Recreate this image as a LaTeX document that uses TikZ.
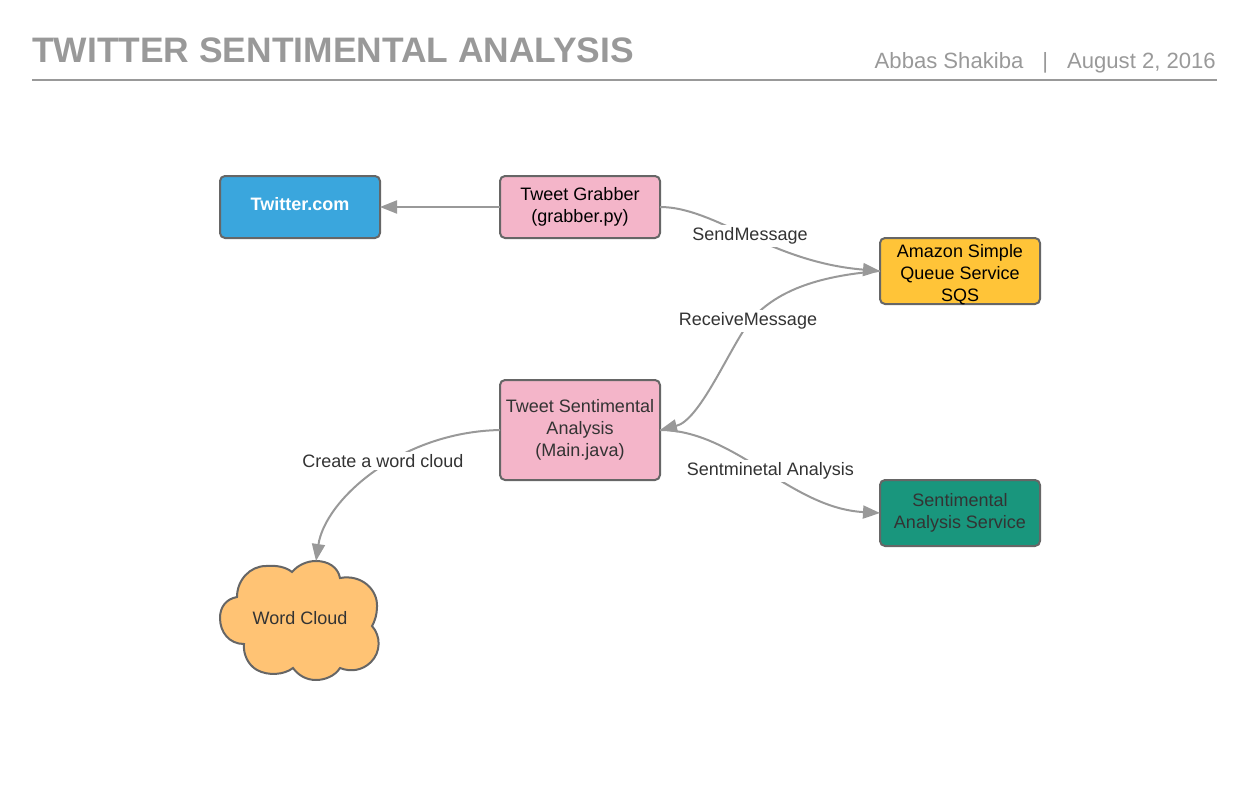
\documentclass[tikz,border=0pt]{standalone}
\usepackage{fontspec}
\setmainfont{Liberation Sans}
\usetikzlibrary{arrows.meta}
\definecolor{rulegray}{HTML}{999999}
\definecolor{edgegray}{HTML}{666666}
\definecolor{inkgray}{HTML}{333333}
\definecolor{twitterblue}{HTML}{3AA6DD}
\definecolor{boxpink}{HTML}{F4B5C9}
\definecolor{boxyellow}{HTML}{FFC438}
\definecolor{boxgreen}{HTML}{19967D}
\definecolor{cloudorange}{HTML}{FFC374}
\tikzset{
  box/.style={draw=edgegray, line width=2pt, rounded corners=5pt, minimum width=160pt, inner sep=0pt, outer sep=0pt,
    align=center, text=inkgray, font=\fontsize{18}{22}\selectfont},
  link/.style={draw=rulegray, line width=2pt, -{Triangle[length=17pt,width=13pt]}},
  linklabel/.style={fill=white, text=inkgray, inner sep=2.5pt, font=\fontsize{18}{20}\selectfont}
}
\begin{document}
\begin{tikzpicture}[x=1pt,y=-1pt]
    \useasboundingbox (0,0) rectangle (1247,800);
    % Header
    \node[anchor=base west, inner sep=0pt, text=rulegray, font=\fontsize{35.4}{40}\selectfont\bfseries] (title) at (32,63) {TWITTER SENTIMENTAL ANALYSIS};
    \node[anchor=base east, inner sep=0pt, text=rulegray, font=\fontsize{22.1}{26}\selectfont] (byline) at (1216,69) {Abbas Shakiba\hspace{19pt}|\hspace{19pt}August 2, 2016};
    \coordinate (ruleL) at (32,80);
    \coordinate (ruleR) at (1217,80);
    \draw[rulegray, line width=2pt] (ruleL) -- (ruleR);
    % Boxes
    \node[box, fill=twitterblue, minimum height=62pt, text=white, font=\fontsize{18}{22}\selectfont\bfseries] (twitter) at (300,207) {\raisebox{6pt}{Twitter.com}};
    \node[box, fill=boxpink, minimum height=62pt, text=black] (grabber) at (580,207) {Tweet Grabber\\(grabber.py)};
    \node[box, fill=boxyellow, minimum height=66pt, text=black] (sqs) at (960,271) {\raisebox{-7.5pt}[0pt][0pt]{\parbox{160pt}{\centering Amazon Simple\\Queue Service\\SQS}}};
    \node[box, fill=boxpink, minimum height=100pt] (main) at (580,430) {Tweet Sentimental\\Analysis\\(Main.java)};
    \node[box, fill=boxgreen, minimum height=66pt] (service) at (960,513) {Sentimental\\Analysis Service};
    % Cloud
    \draw[edgegray, line width=2pt, fill=cloudorange]
        (292,572) .. controls (298,565) and (307,561) .. (316,561)
        .. controls (328,561) and (338,567) .. (340,578)
        .. controls (362,574) and (378,590) .. (377,607)
        .. controls (377,614) and (375,621) .. (372,626)
        .. controls (381,636) and (381,652) .. (371,662)
        .. controls (362,671) and (350,672) .. (340,668)
        .. controls (335,676) and (325,680) .. (316,680)
        .. controls (306,680) and (298,675) .. (293,668)
        .. controls (284,675) and (268,676) .. (257,670)
        .. controls (248,665) and (243,654) .. (244,644)
        .. controls (229,644) and (220,632) .. (220,618)
        .. controls (220,607) and (226,599) .. (237,597)
        .. controls (237,580) and (250,566) .. (266,566)
        .. controls (276,565) and (286,567) .. (292,572) -- cycle;
    \node[inner sep=0pt, text=inkgray, font=\fontsize{18}{22}\selectfont] (wordcloud) at (300,618) {Word Cloud};
    \coordinate (cloudtop) at (316,561);
    % Connectors
    \draw[link] (grabber.west) -- (twitter.east);
    \draw[link] (grabber.east) .. controls (715,207) and (770,262) .. (sqs.west)
        node[linklabel] (sendlabel) at (750,236) {SendMessage};
    \draw[link] (sqs.west) .. controls (815,276) and (775,292) .. (750,321)
        node[linklabel] (receivelabel) at (748,321) {ReceiveMessage}
        .. controls (728,351) and (700,420) .. (main.east);
    \draw[link] (main.east) .. controls (735,430) and (790,508) .. (service.west)
        node[linklabel, pos=.5, xshift=6pt, yshift=-1pt] (sentlabel) {Sentminetal Analysis};
    \draw[link] (main.west) .. controls (400,432) and (325,500) .. (cloudtop)
        node[linklabel] (cloudlabel) at (383,461) {Create a word cloud};
\end{tikzpicture}
\end{document}
